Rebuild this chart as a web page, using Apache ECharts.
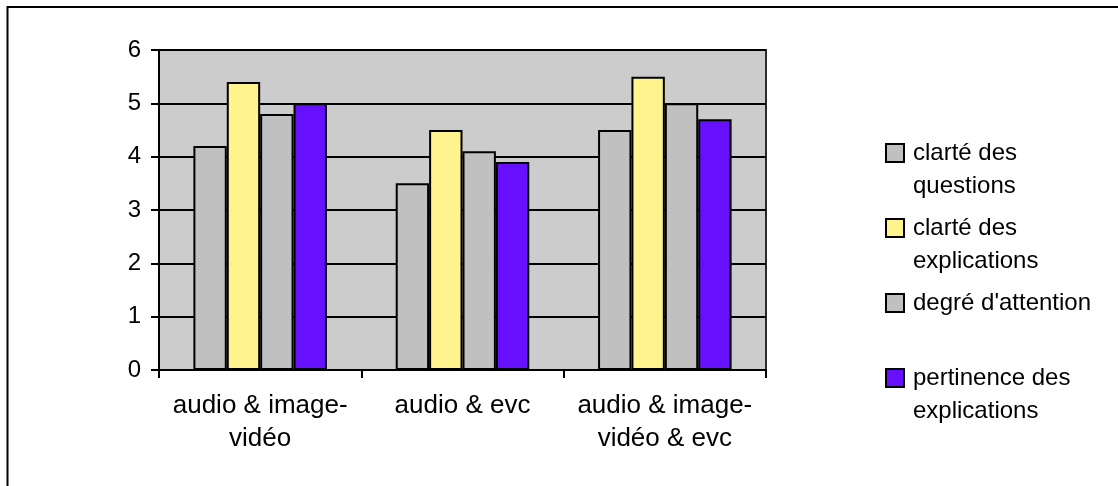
<!DOCTYPE html>
<html>
<head>
<meta charset="utf-8">
<style>
  html, body { margin: 0; padding: 0; background: #fff; }
  #chart { width: 1118px; height: 486px; }
</style>
<script src="https://cdn.jsdelivr.net/npm/echarts@6/dist/echarts.min.js"></script>
</head>
<body>
<div id="chart"></div>
<script>
// Evaluation scores per presentation mode
const categories = ['audio & image-\nvidéo', 'audio & evc', 'audio & image-\nvidéo & evc'];
const seriesNames = ['clarté des\nquestions', 'clarté des\nexplications', "degré d'attention", 'pertinence des\nexplications'];
const clarteQuestions = [4.2, 3.5, 4.5];
const clarteExplications = [5.4, 4.5, 5.5];
const degreAttention = [4.8, 4.1, 5.0];
const pertinenceExplications = [5.0, 3.9, 4.7];
const yTicks = [0, 1, 2, 3, 4, 5, 6];

const seriesValues = [clarteQuestions, clarteExplications, degreAttention, pertinenceExplications];
const seriesColors = ['#C0C0C0', '#FFF38E', '#C0C0C0', '#6610FF'];

const FONT = '"Liberation Sans", Arial, Helvetica, sans-serif';
const LINE_H = 33;

// One legend block per series so each entry sits on its own fixed row.
// Two-line labels get an empty leading line so that, once the text block is
// centred on the swatch, the swatch lines up with the label's first line.
const legendRows = [153, 228, 303, 378];
const legends = seriesNames.map((name, i) => {
  const multiLine = name.indexOf('\n') >= 0;
  return {
    data: [name],
    orient: 'vertical',
    left: 885,
    top: legendRows[i] - (multiLine ? 1.5 * LINE_H : 0.5 * LINE_H),
    padding: 0,
    icon: 'rect',
    itemWidth: 18,
    itemHeight: 18,
    selectedMode: false,
    formatter: (n) => (multiLine ? '\n' + n : n),
    itemStyle: { borderColor: '#000', borderWidth: 2 },
    textStyle: {
      fontFamily: FONT,
      fontSize: 24,
      lineHeight: LINE_H,
      color: '#000',
      padding: [0, 0, 0, 4]
    }
  };
});

const chart = echarts.init(document.getElementById('chart'), null, { renderer: 'canvas' });
chart.setOption({
  animation: false,
  backgroundColor: '#fff',
  textStyle: { fontFamily: FONT },
  graphic: [{
    type: 'rect',
    shape: { x: 7.5, y: 7, width: 1300, height: 700 },
    style: { fill: null, stroke: '#000', lineWidth: 2 },
    silent: true,
    z: -10
  }],
  legend: legends,
  grid: {
    left: 159, right: 352, top: 50, bottom: 116,
    show: true,
    backgroundColor: '#CCCCCC',
    borderColor: '#2a2a2a',
    borderWidth: 2
  },
  xAxis: {
    type: 'category',
    data: categories,
    axisLine: { lineStyle: { color: '#000', width: 2 } },
    axisTick: { show: true, length: 8, lineStyle: { color: '#000', width: 2 } },
    axisLabel: {
      interval: 0,
      color: '#000', fontSize: 26, lineHeight: LINE_H, margin: 19, fontFamily: FONT
    },
    splitLine: { show: false }
  },
  yAxis: {
    type: 'value',
    min: yTicks[0],
    max: yTicks[yTicks.length - 1],
    interval: 1,
    axisLine: { show: true, lineStyle: { color: '#000', width: 2 } },
    axisTick: { show: true, length: 8, lineStyle: { color: '#000', width: 2 } },
    axisLabel: { color: '#000', fontSize: 24, margin: 18, fontFamily: FONT },
    splitLine: { show: true, lineStyle: { color: '#000', width: 2 } }
  },
  series: seriesNames.map((name, i) => ({
    name: name,
    type: 'bar',
    data: seriesValues[i],
    barGap: '0%',
    barCategoryGap: '34%',
    itemStyle: { color: seriesColors[i], borderColor: '#000', borderWidth: 2 }
  }))
});
</script>
</body>
</html>
